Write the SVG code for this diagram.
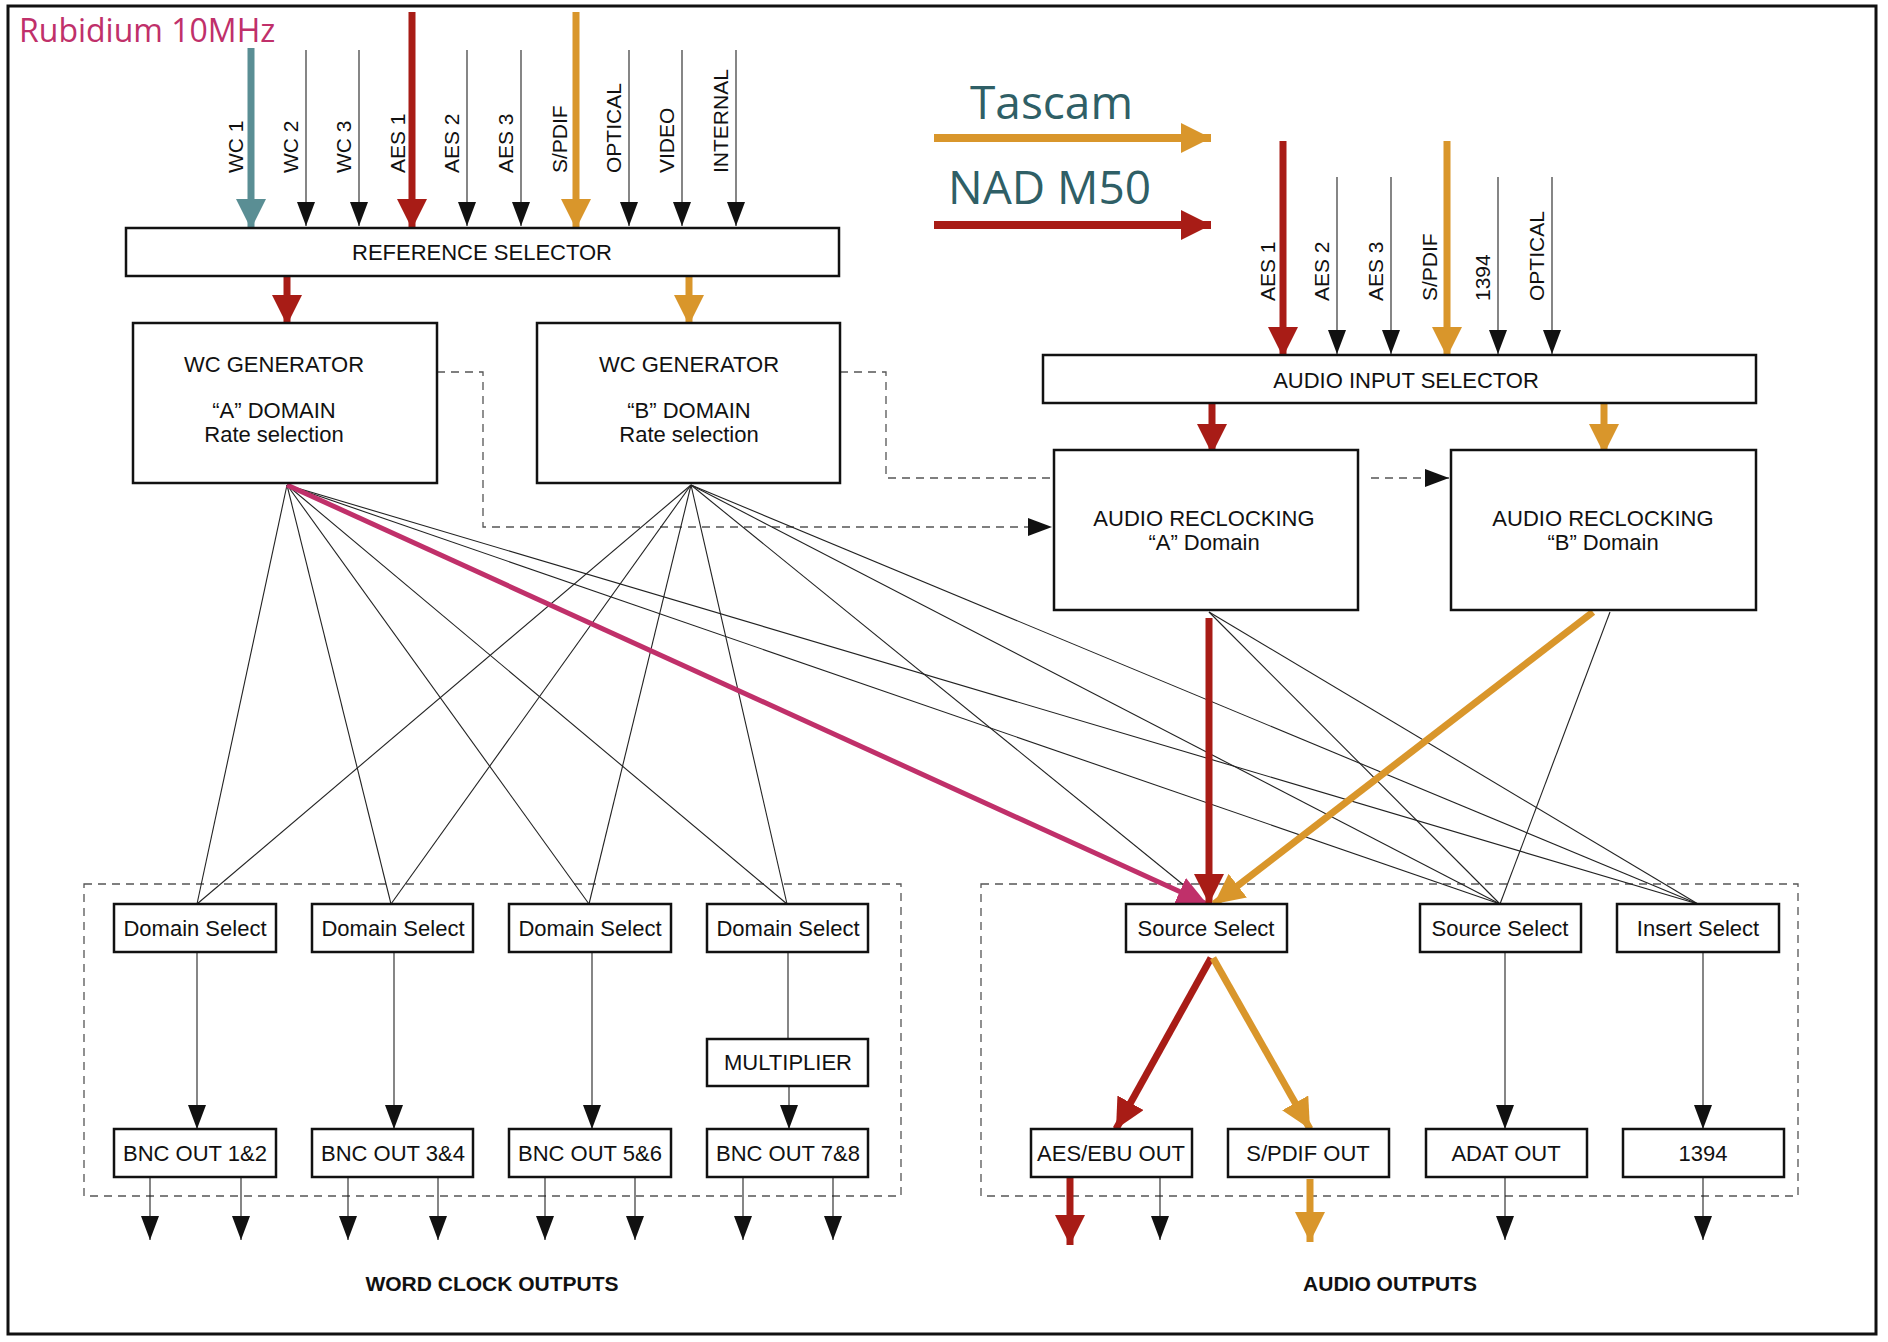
<svg xmlns="http://www.w3.org/2000/svg" width="1888" height="1342" viewBox="0 0 1888 1342">
<style>
.box{fill:#fff;stroke:#111;stroke-width:2.5}
.t{font-family:"Liberation Sans",Arial,sans-serif;font-size:22px;fill:#111;text-anchor:middle}
.lab{font-family:"Liberation Sans",Arial,sans-serif;font-size:21px;fill:#111;text-anchor:start}
.bold{font-family:"Liberation Sans",Arial,sans-serif;font-size:21px;font-weight:bold;fill:#111;text-anchor:middle}
.thin{stroke:#222;stroke-width:1.1;fill:none}
.dash{stroke:#555;stroke-width:1.3;stroke-dasharray:8 6;fill:none}
.red{stroke:#a81c16;stroke-width:7;fill:none}
.org{stroke:#d9962b;stroke-width:7;fill:none}
.mag{stroke:#c0306a;stroke-width:5;fill:none}
.teal{stroke:#5a8e94;stroke-width:7;fill:none}
.big{font-family:"Open Sans","Noto Sans",sans-serif;fill:#2f5f66}
</style>
<defs>
<marker id="ab" markerUnits="userSpaceOnUse" markerWidth="24" markerHeight="18" refX="24" refY="9" orient="auto"><path d="M0,0 L24,9 L0,18 z" fill="#111"/></marker>
<marker id="ar" markerUnits="userSpaceOnUse" markerWidth="30" markerHeight="30" refX="30" refY="15" orient="auto"><path d="M0,0 L30,15 L0,30 z" fill="#a81c16"/></marker>
<marker id="ao" markerUnits="userSpaceOnUse" markerWidth="30" markerHeight="30" refX="30" refY="15" orient="auto"><path d="M0,0 L30,15 L0,30 z" fill="#d9962b"/></marker>
<marker id="at" markerUnits="userSpaceOnUse" markerWidth="30" markerHeight="30" refX="30" refY="15" orient="auto"><path d="M0,0 L30,15 L0,30 z" fill="#5a8e94"/></marker>
<marker id="am" markerUnits="userSpaceOnUse" markerWidth="30" markerHeight="30" refX="30" refY="15" orient="auto"><path d="M0,0 L30,15 L0,30 z" fill="#c0306a"/></marker>
</defs>
<rect x="8" y="6" width="1868" height="1328" fill="#fff" stroke="#111" stroke-width="3"/>
<text x="19" y="42" class="big" style="font-size:32px;fill:#c0306a">Rubidium 10MHz</text>
<text x="970" y="119" class="big" style="font-size:46px">Tascam</text>
<text x="948" y="204" class="big" style="font-size:46px">NAD M50</text>
<rect x="84" y="884" width="817" height="312" class="dash"/>
<rect x="981" y="884" width="817" height="312" class="dash"/>
<g id="connectors">
<line x1="934" y1="138" x2="1211" y2="138" stroke="#d9962b" stroke-width="8" marker-end="url(#ao)"/>
<line x1="934" y1="225" x2="1211" y2="225" stroke="#a81c16" stroke-width="8" marker-end="url(#ar)"/>
<line x1="251" y1="48" x2="251" y2="229" class="teal" marker-end="url(#at)"/>
<line x1="412" y1="12" x2="412" y2="229" class="red" marker-end="url(#ar)"/>
<line x1="576" y1="12" x2="576" y2="229" class="org" marker-end="url(#ao)"/>
<g class="thin" marker-end="url(#ab)">
<line x1="306" y1="50" x2="306" y2="226"/><line x1="359" y1="50" x2="359" y2="226"/>
<line x1="467" y1="50" x2="467" y2="226"/><line x1="521" y1="50" x2="521" y2="226"/>
<line x1="629" y1="50" x2="629" y2="226"/><line x1="682" y1="50" x2="682" y2="226"/>
<line x1="736" y1="50" x2="736" y2="226"/>
<line x1="1337" y1="177" x2="1337" y2="354"/><line x1="1391" y1="177" x2="1391" y2="354"/>
<line x1="1498" y1="177" x2="1498" y2="354"/><line x1="1552" y1="177" x2="1552" y2="354"/>
</g>
<line x1="1283" y1="141" x2="1283" y2="357" class="red" marker-end="url(#ar)"/>
<line x1="1447" y1="141" x2="1447" y2="357" class="org" marker-end="url(#ao)"/>
<line x1="287" y1="276" x2="287" y2="325" class="red" marker-end="url(#ar)"/>
<line x1="689" y1="276" x2="689" y2="325" class="org" marker-end="url(#ao)"/>
<line x1="1212" y1="403" x2="1212" y2="454" class="red" marker-end="url(#ar)"/>
<line x1="1604" y1="403" x2="1604" y2="454" class="org" marker-end="url(#ao)"/>
<path d="M437,372 H483 V527 H1052" class="dash" marker-end="url(#ab)"/>
<path d="M840,372 H886 V478 H1054" class="dash"/>
<path d="M1371,478 H1449" class="dash" marker-end="url(#ab)"/>
<g class="thin">
<line x1="287" y1="485" x2="197" y2="904"/><line x1="287" y1="485" x2="391" y2="904"/>
<line x1="287" y1="485" x2="589" y2="904"/><line x1="287" y1="485" x2="787" y2="904"/>
<line x1="287" y1="485" x2="1500" y2="904"/><line x1="287" y1="485" x2="1698" y2="904"/>
<line x1="691" y1="485" x2="197" y2="904"/><line x1="691" y1="485" x2="391" y2="904"/>
<line x1="691" y1="485" x2="589" y2="904"/><line x1="691" y1="485" x2="787" y2="904"/>
<line x1="691" y1="485" x2="1207" y2="904"/><line x1="691" y1="485" x2="1500" y2="904"/>
<line x1="691" y1="485" x2="1698" y2="904"/>
<line x1="1209" y1="612" x2="1500" y2="904"/><line x1="1209" y1="612" x2="1698" y2="904"/>
<line x1="1610" y1="612" x2="1500" y2="904"/>
<line x1="788" y1="952" x2="788" y2="1039"/>
</g>
<line x1="287" y1="485" x2="1207" y2="904" class="mag" marker-end="url(#am)"/>
<line x1="1209" y1="618" x2="1209" y2="904" class="red" marker-end="url(#ar)"/>
<line x1="1593" y1="612" x2="1214" y2="904" class="org" marker-end="url(#ao)"/>
<line x1="1211" y1="958" x2="1116" y2="1129" class="red" marker-end="url(#ar)"/>
<line x1="1213" y1="958" x2="1310" y2="1129" class="org" marker-end="url(#ao)"/>
<g class="thin" marker-end="url(#ab)">
<line x1="197" y1="952" x2="197" y2="1129"/><line x1="394" y1="952" x2="394" y2="1129"/>
<line x1="592" y1="952" x2="592" y2="1129"/><line x1="789" y1="1086" x2="789" y2="1129"/>
<line x1="1505" y1="952" x2="1505" y2="1129"/><line x1="1703" y1="952" x2="1703" y2="1129"/>
<line x1="150" y1="1177" x2="150" y2="1240"/><line x1="241" y1="1177" x2="241" y2="1240"/>
<line x1="348" y1="1177" x2="348" y2="1240"/><line x1="438" y1="1177" x2="438" y2="1240"/>
<line x1="545" y1="1177" x2="545" y2="1240"/><line x1="635" y1="1177" x2="635" y2="1240"/>
<line x1="743" y1="1177" x2="743" y2="1240"/><line x1="833" y1="1177" x2="833" y2="1240"/>
<line x1="1160" y1="1177" x2="1160" y2="1240"/><line x1="1505" y1="1177" x2="1505" y2="1240"/>
<line x1="1703" y1="1177" x2="1703" y2="1240"/>
</g>
<line x1="1070" y1="1177" x2="1070" y2="1245" class="red" marker-end="url(#ar)"/>
<line x1="1310" y1="1179" x2="1310" y2="1242" class="org" marker-end="url(#ao)"/>
</g>
<g class="lab">
<text transform="translate(243,173) rotate(-90)">WC 1</text>
<text transform="translate(298,173) rotate(-90)">WC 2</text>
<text transform="translate(351,173) rotate(-90)">WC 3</text>
<text transform="translate(405,173) rotate(-90)">AES 1</text>
<text transform="translate(459,173) rotate(-90)">AES 2</text>
<text transform="translate(513,173) rotate(-90)">AES 3</text>
<text transform="translate(567,173) rotate(-90)">S/PDIF</text>
<text transform="translate(621,173) rotate(-90)">OPTICAL</text>
<text transform="translate(674,173) rotate(-90)">VIDEO</text>
<text transform="translate(728,173) rotate(-90)">INTERNAL</text>
<text transform="translate(1275,301) rotate(-90)">AES 1</text>
<text transform="translate(1329,301) rotate(-90)">AES 2</text>
<text transform="translate(1383,301) rotate(-90)">AES 3</text>
<text transform="translate(1437,301) rotate(-90)">S/PDIF</text>
<text transform="translate(1490,301) rotate(-90)">1394</text>
<text transform="translate(1544,301) rotate(-90)">OPTICAL</text>
</g>
<g id="refsel"><rect x="126" y="228" width="713" height="48" class="box"/><text x="482" y="260" class="t">REFERENCE SELECTOR</text></g>
<g id="wcgenA"><rect x="133" y="323" width="304" height="160" class="box"/><text x="274" y="372" class="t">WC GENERATOR</text><text x="274" y="418" class="t">“A” DOMAIN</text><text x="274" y="442" class="t">Rate selection</text></g>
<g id="wcgenB"><rect x="537" y="323" width="303" height="160" class="box"/><text x="689" y="372" class="t">WC GENERATOR</text><text x="689" y="418" class="t">“B” DOMAIN</text><text x="689" y="442" class="t">Rate selection</text></g>
<g id="ainsel"><rect x="1043" y="355" width="713" height="48" class="box"/><text x="1406" y="388" class="t">AUDIO INPUT SELECTOR</text></g>
<g id="reclkA"><rect x="1054" y="450" width="304" height="160" class="box"/><text x="1204" y="526" class="t">AUDIO RECLOCKING</text><text x="1204" y="550" class="t">“A” Domain</text></g>
<g id="reclkB"><rect x="1451" y="450" width="305" height="160" class="box"/><text x="1603" y="526" class="t">AUDIO RECLOCKING</text><text x="1603" y="550" class="t">“B” Domain</text></g>
<g id="ds1"><rect x="114" y="904" width="162" height="48" class="box"/><text x="195" y="936" class="t">Domain Select</text></g>
<g id="ds2"><rect x="312" y="904" width="161" height="48" class="box"/><text x="393" y="936" class="t">Domain Select</text></g>
<g id="ds3"><rect x="509" y="904" width="162" height="48" class="box"/><text x="590" y="936" class="t">Domain Select</text></g>
<g id="ds4"><rect x="707" y="904" width="161" height="48" class="box"/><text x="788" y="936" class="t">Domain Select</text></g>
<g id="mult"><rect x="707" y="1039" width="161" height="47" class="box"/><text x="788" y="1070" class="t">MULTIPLIER</text></g>
<g id="bnc1"><rect x="114" y="1129" width="162" height="48" class="box"/><text x="195" y="1161" class="t">BNC OUT 1&amp;2</text></g>
<g id="bnc2"><rect x="312" y="1129" width="161" height="48" class="box"/><text x="393" y="1161" class="t">BNC OUT 3&amp;4</text></g>
<g id="bnc3"><rect x="509" y="1129" width="162" height="48" class="box"/><text x="590" y="1161" class="t">BNC OUT 5&amp;6</text></g>
<g id="bnc4"><rect x="707" y="1129" width="161" height="48" class="box"/><text x="788" y="1161" class="t">BNC OUT 7&amp;8</text></g>
<g id="ss1"><rect x="1126" y="904" width="161" height="48" class="box"/><text x="1206" y="936" class="t">Source Select</text></g>
<g id="ss2"><rect x="1420" y="904" width="161" height="48" class="box"/><text x="1500" y="936" class="t">Source Select</text></g>
<g id="ins"><rect x="1617" y="904" width="162" height="48" class="box"/><text x="1698" y="936" class="t">Insert Select</text></g>
<g id="aesout"><rect x="1031" y="1129" width="161" height="48" class="box"/><text x="1111" y="1161" class="t">AES/EBU OUT</text></g>
<g id="spdifout"><rect x="1228" y="1129" width="161" height="48" class="box"/><text x="1308" y="1161" class="t">S/PDIF OUT</text></g>
<g id="adatout"><rect x="1426" y="1129" width="161" height="48" class="box"/><text x="1506" y="1161" class="t">ADAT OUT</text></g>
<g id="fw"><rect x="1623" y="1129" width="161" height="48" class="box"/><text x="1703" y="1161" class="t">1394</text></g>
<text x="492" y="1291" class="bold">WORD CLOCK OUTPUTS</text>
<text x="1390" y="1291" class="bold">AUDIO OUTPUTS</text>
</svg>
